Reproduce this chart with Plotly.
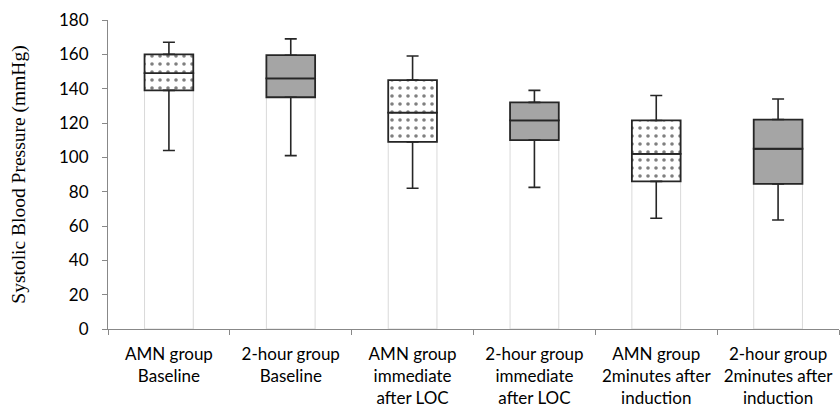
import plotly.graph_objects as go

categories = [
    "AMN group<br>Baseline",
    "2-hour group<br>Baseline",
    "AMN group<br>immediate<br>after LOC",
    "2-hour group<br>immediate<br>after LOC",
    "AMN group<br>2minutes after<br>induction",
    "2-hour group<br>2minutes after<br>induction",
]
groups = ["AMN", "2-hour", "AMN", "2-hour", "AMN", "2-hour"]
whisker_min = [104, 101, 82, 82.5, 64.5, 63.5]
q1 = [139, 135, 109, 110, 86, 84.5]
median = [149, 146, 126, 121.5, 102, 105]
q3 = [160, 159.5, 145, 132, 121.5, 122]
whisker_max = [167, 169, 159, 139, 136, 134]

fig = go.Figure()

# base segment (0 -> Q1), drawn as pale outlined bar
fig.add_trace(go.Bar(
    x=categories, y=q1, base=0, width=0.4,
    marker=dict(color="white", line=dict(color="#d9d9d9", width=1)),
    showlegend=False, hoverinfo="skip",
))

edge = dict(color="#262626", width=1.8)
amn_idx = [i for i, g in enumerate(groups) if g == "AMN"]
two_idx = [i for i, g in enumerate(groups) if g == "2-hour"]
for lo, hi in [(q1, median), (median, q3)]:
    fig.add_trace(go.Bar(
        x=[categories[i] for i in amn_idx],
        y=[hi[i] - lo[i] for i in amn_idx],
        base=[lo[i] for i in amn_idx], width=0.4,
        marker=dict(color="white", line=edge,
                    pattern=dict(shape=".", fgcolor="black", bgcolor="white",
                                 size=8, solidity=0.16)),
        showlegend=False, hoverinfo="skip",
    ))
    fig.add_trace(go.Bar(
        x=[categories[i] for i in two_idx],
        y=[hi[i] - lo[i] for i in two_idx],
        base=[lo[i] for i in two_idx], width=0.4,
        marker=dict(color="#a5a5a5", line=edge),
        showlegend=False, hoverinfo="skip",
    ))

# whiskers
fig.add_trace(go.Scatter(
    x=categories, y=q3, mode="markers", marker=dict(size=0.1, color="rgba(0,0,0,0)"),
    error_y=dict(type="data", symmetric=False,
                 array=[a - b for a, b in zip(whisker_max, q3)],
                 arrayminus=[0] * len(q3), color="#262626", thickness=1.6, width=6),
    showlegend=False, hoverinfo="skip",
))
fig.add_trace(go.Scatter(
    x=categories, y=q1, mode="markers", marker=dict(size=0.1, color="rgba(0,0,0,0)"),
    error_y=dict(type="data", symmetric=False,
                 array=[0] * len(q1),
                 arrayminus=[b - a for a, b in zip(whisker_min, q1)],
                 color="#262626", thickness=1.6, width=6),
    showlegend=False, hoverinfo="skip",
))

fig.update_layout(
    width=840, height=407,
    margin=dict(l=108, r=1, t=20, b=78, autoexpand=False),
    paper_bgcolor="white", plot_bgcolor="white",
    barmode="overlay",
    font=dict(family="Lato, Open Sans, sans-serif", size=16, color="black"),
    xaxis=dict(
        showline=True, linecolor="#888888", linewidth=1.2,
        ticks="outside", tickson="boundaries", ticklen=5, tickcolor="#888888",
        showgrid=False, tickfont=dict(size=17), ticklabelstandoff=9,
        tickangle=0, automargin=False,
    ),
    yaxis=dict(
        range=[0, 180], dtick=20, showline=True, linecolor="#888888", linewidth=1.2,
        ticks="outside", ticklen=5, tickcolor="#888888", showgrid=False, zeroline=False,
        tickfont=dict(size=17), ticklabelstandoff=10, automargin=False,
        title=dict(text="Systolic Blood Pressure (mmHg)",
                   font=dict(family="Liberation Serif, serif", size=19.5), standoff=28),
    ),
)

fig.write_html("out.html", config={"displayModeBar": False},
               post_script="document.body.style.margin='0';")
